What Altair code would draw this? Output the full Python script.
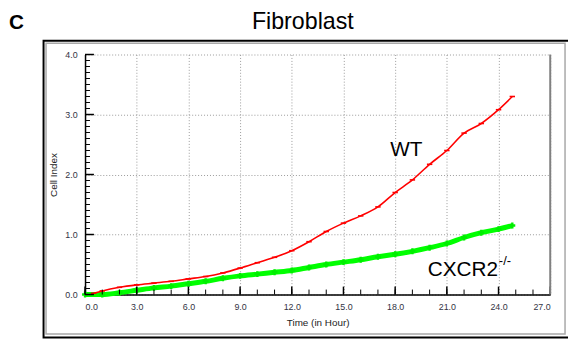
import altair as alt
import pandas as pd

# ---- data ----
hours_wt = [0.5, 1, 2, 3, 4, 5, 6, 7, 8, 9, 10, 11, 12, 13, 14, 15, 16, 17, 18, 19, 20, 21, 22, 23, 24, 24.8]
cell_index_wt = [0.02, 0.06, 0.12, 0.16, 0.19, 0.22, 0.26, 0.30, 0.36, 0.44, 0.53, 0.62, 0.73, 0.88, 1.05, 1.19,
                 1.31, 1.46, 1.70, 1.91, 2.17, 2.40, 2.69, 2.85, 3.08, 3.30]
hours_ko = [0, 1, 2, 3, 4, 5, 6, 7, 8, 9, 10, 11, 12, 13, 14, 15, 16, 17, 18, 19, 20, 21, 22, 23, 24, 24.8]
cell_index_ko = [0.0, 0.0, 0.03, 0.07, 0.11, 0.14, 0.18, 0.22, 0.27, 0.31, 0.34, 0.37, 0.40, 0.45, 0.50, 0.54,
                 0.58, 0.63, 0.67, 0.72, 0.78, 0.85, 0.95, 1.03, 1.09, 1.15]
x_major = [0, 3, 6, 9, 12, 15, 18, 21, 24, 27]
y_major = [0, 1, 2, 3, 4]
x_minor = list(range(0, 28))
y_minor = [round(i * 0.1, 1) for i in range(41)]

W, H = 471, 243
FONT = "Liberation Sans"

wt = pd.DataFrame({"x": hours_wt, "y": cell_index_wt})
ko = pd.DataFrame({"x": hours_ko, "y": cell_index_ko})

xs = alt.Scale(domain=[0, 27], nice=False, zero=False)
ys = alt.Scale(domain=[0, 4], nice=False)

x_axis = alt.Axis(values=x_major, format=".1f", title="Time (in Hour)", grid=True, gridDash=[1, 2],
                  gridColor="#999999", gridWidth=1, ticks=False, tickSize=0, domainColor="#000000",
                  domainWidth=1.5, labelFont=FONT, labelFontSize=9, labelColor="#333344", labelPadding=8,
                  titleFont=FONT, titleFontSize=10, titleFontWeight="normal", titleColor="#222222",
                  titlePadding=6)
y_axis = alt.Axis(values=y_major, format=".1f", title="Cell Index", grid=True, gridDash=[1, 2],
                  gridColor="#999999", gridWidth=1, ticks=False, tickSize=0, domainColor="#000000",
                  domainWidth=1.5, labelFont=FONT, labelFontSize=9, labelColor="#333344", labelPadding=8,
                  titleFont=FONT, titleFontSize=10, titleFontWeight="normal", titleColor="#222222",
                  titlePadding=6)

one = pd.DataFrame({"t": [""]})

# outer panel frame
frame_black = alt.Chart(one).mark_rect(filled=False, stroke="#000000", strokeWidth=2).encode(
    x=alt.value(-42), x2=alt.value(500), y=alt.value(-14), y2=alt.value(286.5))
frame_gray = alt.Chart(one).mark_rect(filled=False, stroke="#a8a8a8", strokeWidth=1.5).encode(
    x=alt.value(-39.5), x2=alt.value(486), y=alt.value(-11.5), y2=alt.value(283))

ko_line = alt.Chart(ko).mark_line(color="#00ff00", strokeWidth=5, interpolate="monotone").encode(
    x=alt.X("x:Q", scale=xs, axis=x_axis),
    y=alt.Y("y:Q", scale=ys, axis=y_axis))
ko_pts = alt.Chart(ko).mark_point(shape="cross", filled=True, color="#00ee00", size=36, opacity=1).encode(
    x=alt.X("x:Q", scale=xs), y=alt.Y("y:Q", scale=ys))
wt_line = alt.Chart(wt).mark_line(color="#ff0000", strokeWidth=1.6, interpolate="monotone").encode(
    x=alt.X("x:Q", scale=xs), y=alt.Y("y:Q", scale=ys))
wt_ticks = alt.Chart(wt).mark_point(shape="M-1,0L1,0", stroke="#ff0000", size=30, strokeWidth=1.6,
                                    opacity=1, filled=False).encode(
    x=alt.X("x:Q", scale=xs), y=alt.Y("y:Q", scale=ys))

# inward ticks
yminor = alt.Chart(pd.DataFrame({"v": y_minor})).mark_rule(color="#000000", strokeWidth=1).encode(
    y=alt.Y("v:Q", scale=ys), x=alt.value(0), x2=alt.value(5))
ymajor = alt.Chart(pd.DataFrame({"v": y_major})).mark_rule(color="#000000", strokeWidth=1.5).encode(
    y=alt.Y("v:Q", scale=ys), x=alt.value(0), x2=alt.value(9))
xminor = alt.Chart(pd.DataFrame({"v": x_minor})).mark_rule(color="#000000", strokeWidth=1).encode(
    x=alt.X("v:Q", scale=xs), y=alt.value(H), y2=alt.value(H - 5))
xmajor = alt.Chart(pd.DataFrame({"v": x_major})).mark_rule(color="#000000", strokeWidth=1.5).encode(
    x=alt.X("v:Q", scale=xs), y=alt.value(H), y2=alt.value(H - 8))
right_border = alt.Chart(one).mark_rule(color="#808080", strokeWidth=2).encode(
    x=alt.value(W), y=alt.value(0), y2=alt.value(H))

def label(txt, x, y, size, weight="normal", align="left"):
    return alt.Chart(pd.DataFrame({"t": [txt]})).mark_text(
        font=FONT, fontSize=size, fontWeight=weight, align=align, baseline="alphabetic", color="#000000"
    ).encode(text="t:N", x=alt.value(x), y=alt.value(y))

title = label("Fibroblast", 220.5, -26, 23.5, align="center")
panel = label("C", -77, -26, 21, weight="bold")
wt_lab = label("WT", 309, 103, 21)
ko_lab = label("CXCR2", 347, 224, 21)
ko_sup = label("-/-", 419, 213, 13)

chart = alt.layer(
    frame_black, frame_gray, ko_line, ko_pts, wt_line, wt_ticks,
    yminor, ymajor, xminor, xmajor, right_border,
    title, panel, wt_lab, ko_lab, ko_sup
).properties(
    width=W, height=H,
    autosize=alt.AutoSizeParams(type="none"),
    padding={"left": 78, "top": 45, "right": 18, "bottom": 46},
).configure_view(stroke=None)

chart.save("out.html", embed_options={"renderer": "svg", "actions": False})
